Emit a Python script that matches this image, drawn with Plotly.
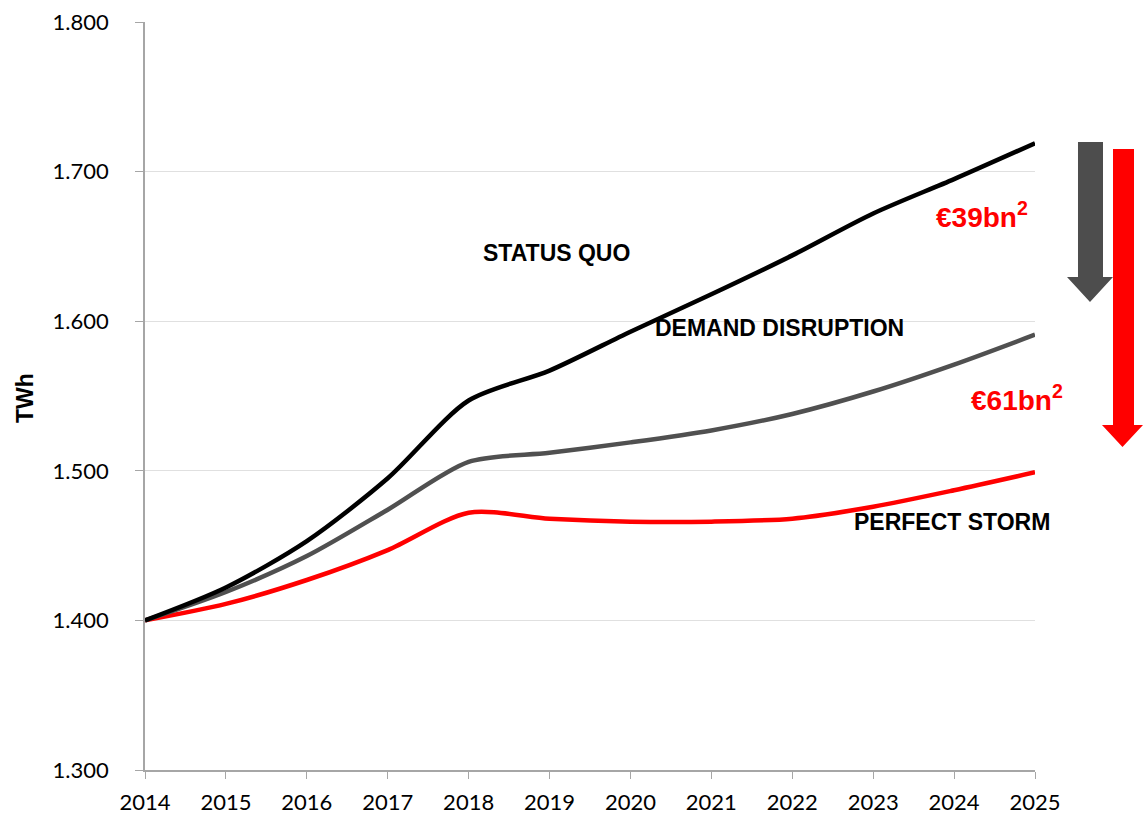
import plotly.graph_objects as go

years = [2014, 2015, 2016, 2017, 2018, 2019, 2020, 2021, 2022, 2023, 2024, 2025]
status_quo = [1.400, 1.422, 1.453, 1.495, 1.547, 1.567, 1.593, 1.618, 1.644, 1.672, 1.695, 1.719]
demand_disruption = [1.400, 1.419, 1.443, 1.474, 1.506, 1.512, 1.519, 1.527, 1.538, 1.553, 1.571, 1.591]
perfect_storm = [1.400, 1.411, 1.427, 1.447, 1.472, 1.468, 1.466, 1.466, 1.468, 1.476, 1.487, 1.499]
y_ticks = [1.3, 1.4, 1.5, 1.6, 1.7, 1.8]
y_tick_labels = ["1.300", "1.400", "1.500", "1.600", "1.700", "1.800"]

W, H = 1143, 816
L, R, T, B = 145, 1035, 22, 770

def px(x):
    return (x - L) / (R - L)

def py(y):
    return (B - y) / (B - T)

def arrow_path(x0, x1, ytop, yhead, ytip, hx0, hx1):
    xm = (hx0 + hx1) / 2
    pts = [(x0, ytop), (x1, ytop), (x1, yhead), (hx1, yhead), (xm, ytip), (hx0, yhead), (x0, yhead)]
    return "M " + " L ".join(f"{px(a):.5f},{py(b):.5f}" for a, b in pts) + " Z"

fig = go.Figure()
fig.add_trace(go.Scatter(x=years, y=perfect_storm, mode="lines", line=dict(color="#ff0000", width=4.5, shape="spline", smoothing=0.8), name="PERFECT STORM"))
fig.add_trace(go.Scatter(x=years, y=demand_disruption, mode="lines", line=dict(color="#505050", width=4.5, shape="spline", smoothing=0.8), name="DEMAND DISRUPTION"))
fig.add_trace(go.Scatter(x=years, y=status_quo, mode="lines", line=dict(color="#000000", width=4.5, shape="spline", smoothing=0.8), name="STATUS QUO"))

fig.add_shape(type="path", xref="paper", yref="paper", path=arrow_path(1078, 1103, 142, 277, 302, 1067, 1113),
              fillcolor="#4d4d4d", line=dict(width=0), layer="above")
fig.add_shape(type="path", xref="paper", yref="paper", path=arrow_path(1113, 1134, 149, 425, 447, 1102, 1143),
              fillcolor="#ff0000", line=dict(width=0), layer="above")

lab_font = dict(family="Liberation Sans, Arial", size=23, color="#000000")
def add_label(text, x, y, font, xanchor="center", angle=0):
    fig.add_annotation(text=text, xref="paper", yref="paper", x=px(x), y=py(y), showarrow=False,
                       xanchor=xanchor, yanchor="middle", font=font, textangle=angle)

add_label("<b>STATUS QUO</b>", 556, 253, lab_font)
add_label("<b>DEMAND DISRUPTION</b>", 779, 328, lab_font)
add_label("<b>PERFECT STORM</b>", 952, 522, lab_font)
red_font = dict(family="Liberation Sans, Arial", size=28, color="#ff0000")
add_label("<b>€39bn<sup>2</sup></b>", 982, 215, red_font)
add_label("<b>€61bn<sup>2</sup></b>", 1017, 398, red_font)
add_label("<b>TWh</b>", 25, 398, dict(family="Liberation Sans, Arial", size=23, color="#000000"), angle=-90)

tick_font = dict(family="Lato, Calibri, sans-serif", size=22, color="#000000")
fig.update_layout(
    width=W, height=H,
    margin=dict(l=L, r=W - R, t=T, b=H - B, autoexpand=False),
    paper_bgcolor="white", plot_bgcolor="white",
    showlegend=False,
    xaxis=dict(range=[2014, 2025], tickvals=years, ticktext=[str(y) for y in years], automargin=False,
               showgrid=False, zeroline=False, showline=True, linecolor="#a6a6a6", linewidth=1.5,
               ticks="outside", ticklen=7, tickcolor="#a6a6a6", ticklabelstandoff=5,
               tickfont=tick_font),
    yaxis=dict(range=[1.3, 1.8], tickvals=y_ticks, ticktext=y_tick_labels, automargin=False,
               showgrid=True, gridcolor="#e0e0e0", gridwidth=1, zeroline=False,
               showline=True, linecolor="#a6a6a6", linewidth=1.5,
               ticks="outside", ticklen=8, tickcolor="#a6a6a6", ticklabelstandoff=22,
               tickfont=tick_font),
)

fig.write_html("out.html", config={"displayModeBar": False},
               post_script="document.body.style.margin='0';document.body.style.overflow='hidden';")
